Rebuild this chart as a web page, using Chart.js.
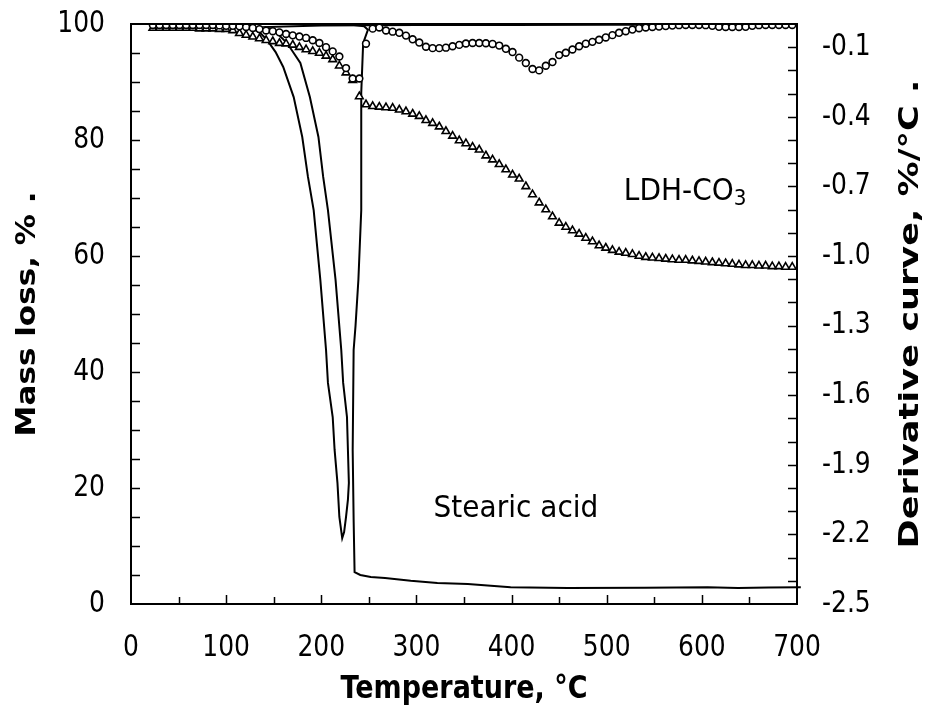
<!DOCTYPE html>
<html>
<head>
<meta charset="utf-8">
<script src="https://cdn.jsdelivr.net/npm/chart.js@4.4.1/dist/chart.umd.min.js"></script>
<style>
  html, body { margin: 0; padding: 0; background: #fff; }
  canvas { display: block; }
</style>
</head>
<body>
<canvas id="tga" width="927" height="711"></canvas>
<script>
// LDH-CO3: temperatures (°C) where the markers sit, TG (%) and DTG (%/°C)
const ldhTemp = [23, 30, 37, 44, 51, 58, 65, 72, 79, 86, 93, 100, 107, 114, 121, 128, 135, 142, 149, 156,
  163, 170, 177, 184, 191, 198, 205, 212, 219, 226, 233, 240, 247, 254, 261, 268, 275, 282, 289, 296,
  303, 310, 317, 324, 331, 338, 345, 352, 359, 366, 373, 380, 387, 394, 401, 408, 415, 422, 429, 436,
  443, 450, 457, 464, 471, 478, 485, 492, 499, 506, 513, 520, 527, 534, 541, 548, 555, 562, 569, 576,
  583, 590, 597, 604, 611, 618, 625, 632, 639, 646, 653, 660, 667, 674, 681, 688, 695];
const ldhMass = [99.3, 99.3, 99.3, 99.3, 99.3, 99.3, 99.3, 99.2, 99.2, 99.2, 99.1, 99.1, 98.9, 98.4, 98.1, 97.8, 97.5, 97.2, 97.0, 96.7,
  96.6, 96.4, 96.0, 95.6, 95.3, 95.0, 94.5, 93.9, 92.8, 91.6, 90.3, 87.5, 86.1, 85.8, 85.7, 85.6, 85.5, 85.2, 84.9, 84.5,
  84.1, 83.4, 82.9, 82.3, 81.5, 80.7, 79.9, 79.4, 78.8, 78.3, 77.3, 76.6, 75.8, 74.9, 74.0, 73.3, 72.0, 70.6, 69.2, 68.0,
  66.8, 65.7, 65.0, 64.4, 63.8, 63.1, 62.5, 61.8, 61.4, 61.0, 60.7, 60.5, 60.3, 60.0, 59.8, 59.7, 59.6, 59.5, 59.4, 59.3,
  59.3, 59.2, 59.1, 59.0, 58.9, 58.8, 58.7, 58.6, 58.5, 58.4, 58.4, 58.3, 58.3, 58.2, 58.2, 58.1, 58.1];
const ldhDeriv = [-0.004, -0.004, -0.004, -0.004, -0.004, -0.004, -0.004, -0.004, -0.004, -0.004, -0.006, -0.008, -0.008, -0.010, -0.013, -0.017, -0.022, -0.028, -0.031, -0.036,
  -0.043, -0.049, -0.054, -0.060, -0.070, -0.082, -0.100, -0.118, -0.140, -0.190, -0.235, -0.235, -0.085, -0.020, -0.015, -0.028, -0.033, -0.038, -0.050, -0.066,
  -0.080, -0.098, -0.104, -0.104, -0.102, -0.096, -0.090, -0.084, -0.082, -0.082, -0.083, -0.086, -0.093, -0.107, -0.121, -0.145, -0.168, -0.194, -0.200, -0.180,
  -0.164, -0.134, -0.124, -0.110, -0.096, -0.085, -0.077, -0.068, -0.058, -0.048, -0.038, -0.031, -0.024, -0.018, -0.015, -0.013, -0.011, -0.009, -0.007, -0.005,
  -0.004, -0.004, -0.004, -0.005, -0.008, -0.012, -0.013, -0.013, -0.013, -0.012, -0.008, -0.005, -0.004, -0.004, -0.004, -0.004, -0.004];

// stearic acid TG (%)
const saTgTemp = [23, 60, 100, 150, 200, 230, 245, 249, 244, 242, 242, 239, 236, 234, 233, 234, 235, 241, 252, 267,
  294, 322, 354, 399, 459, 540, 606, 638, 670, 704];
const saTgMass = [100, 100, 100, 100, 100, 99.9, 99.6, 99.0, 96.7, 88.1, 67.9, 55.9, 48.0, 43.8, 26.6, 14.5, 5.5, 5.0, 4.65, 4.5,
  4.0, 3.6, 3.45, 2.9, 2.75, 2.8, 2.9, 2.75, 2.85, 2.9];

// stearic acid DTG (%/°C), in recorded order
const saDtgTemp = [23, 80, 120, 125, 136, 143, 152, 160, 171, 180, 186, 192, 199, 205, 207, 212, 214, 217, 219, 222,
  224, 226, 228, 229, 228, 227, 223, 221, 215, 207, 202, 197, 188, 178, 164, 152, 141, 200, 300, 400, 500, 600, 700];
const saDtgRate = [-0.002, -0.003, -0.006, -0.013, -0.039, -0.069, -0.121, -0.185, -0.315, -0.487, -0.659, -0.802, -1.103, -1.405, -1.547, -1.694, -1.836, -1.978, -2.125, -2.216,
  -2.19, -2.125, -2.05, -1.978, -1.836, -1.694, -1.547, -1.405, -1.103, -0.802, -0.659, -0.487, -0.315, -0.168, -0.082, -0.034, -0.013, -0.006, -0.004, -0.004, -0.003, -0.003, -0.003];

const tempTicks = [0, 100, 200, 300, 400, 500, 600, 700];
const massTicks = [0, 20, 40, 60, 80, 100];
const derivTicks = [-2.5, -2.2, -1.9, -1.6, -1.3, -1.0, -0.7, -0.4, -0.1];

const INK = '#000';
const FONT = "'DejaVu Sans', sans-serif";
const TICK_LEN = 9;
const STRETCH = 1.2;   // the original figure's lettering is taller than it is wide

const pairs = (xs, ys) => xs.map((x, i) => ({ x, y: ys[i] }));

function drawText(ctx, text, x, y, { font, align = 'center', baseline = 'middle', stretch = STRETCH, rotate = false }) {
  ctx.save();
  ctx.font = font;
  ctx.textAlign = align;
  ctx.textBaseline = baseline;
  ctx.translate(x, y);
  ctx.scale(1, stretch);
  if (rotate) ctx.rotate(-Math.PI / 2);
  ctx.fillText(text, 0, 0);
  ctx.restore();
}

// axis frame, inward tick marks, tick labels, titles and in-plot labels
const frame = {
  id: 'frame',
  afterDatasetsDraw(chart) {
    const { ctx, chartArea: a, scales } = chart;
    const { x: sx, y: sy, y2: sy2 } = scales;
    ctx.save();
    ctx.strokeStyle = INK;
    ctx.fillStyle = INK;
    ctx.lineWidth = 2;
    ctx.strokeRect(a.left, a.top, a.right - a.left, a.bottom - a.top);

    ctx.lineWidth = 1.5;
    ctx.beginPath();
    for (let v = 5; v < 100; v += 5) {
      const y = Math.round(sy.getPixelForValue(v)) + 0.5;
      ctx.moveTo(a.left, y); ctx.lineTo(a.left + TICK_LEN, y);
    }
    for (let i = 1; i < 25; i++) {
      const y = Math.round(sy2.getPixelForValue(-i / 10)) + 0.5;
      ctx.moveTo(a.right, y); ctx.lineTo(a.right - TICK_LEN, y);
    }
    for (let v = 50; v < 700; v += 50) {
      const x = Math.round(sx.getPixelForValue(v)) + 0.5;
      ctx.moveTo(x, a.bottom); ctx.lineTo(x, a.bottom - (v % 100 ? TICK_LEN - 2 : TICK_LEN));
    }
    ctx.stroke();

    const tickFont = `25px ${FONT}`;
    sx.ticks.forEach(t => drawText(ctx, String(t.value), sx.getPixelForValue(t.value), a.bottom + 44, { font: tickFont }));
    sy.ticks.forEach(t => drawText(ctx, String(t.value), a.left - 26, sy.getPixelForValue(t.value), { font: tickFont, align: 'right' }));
    sy2.ticks.forEach(t => drawText(ctx, t.value.toFixed(1), a.right + 25, sy2.getPixelForValue(t.value), { font: tickFont, align: 'left' }));

    const titleFont = `bold 27px ${FONT}`;
    const midY = (a.top + a.bottom) / 2;
    drawText(ctx, 'Temperature, °C', (a.left + a.right) / 2, 690, { font: titleFont });
    drawText(ctx, 'Mass loss, % .', 28, midY, { font: titleFont, rotate: true, stretch: 1.15 });
    drawText(ctx, 'Derivative curve, %/°C .', 911, midY, { font: titleFont, rotate: true, stretch: 1.3 });

    const noteFont = `28px ${FONT}`;
    const lx = sx.getPixelForValue(518), ly = sy.getPixelForValue(69.7);
    drawText(ctx, 'LDH-CO', lx, ly, { font: noteFont, align: 'left', baseline: 'alphabetic', stretch: 1.1 });
    ctx.font = noteFont;
    const w = ctx.measureText('LDH-CO').width;
    drawText(ctx, '3', lx + w, ly + 5, { font: `20px ${FONT}`, align: 'left', baseline: 'alphabetic', stretch: 1.1 });
    drawText(ctx, 'Stearic acid', sx.getPixelForValue(318), sy.getPixelForValue(15), { font: noteFont, align: 'left', baseline: 'alphabetic', stretch: 1.1 });
    ctx.restore();
  }
};

const quietAxis = {
  grid: { display: false, drawTicks: false },
  border: { display: false },
  ticks: { display: false },
};

new Chart(document.getElementById('tga'), {
  type: 'scatter',
  data: {
    datasets: [
      {
        label: 'LDH-CO3 DTG', yAxisID: 'y2', data: pairs(ldhTemp, ldhDeriv), showLine: false,
        pointStyle: 'circle', pointRadius: 3.4, pointBorderWidth: 1.6,
        pointBackgroundColor: '#fff', pointBorderColor: INK, order: 1,
      },
      {
        label: 'LDH-CO3 TG', yAxisID: 'y', data: pairs(ldhTemp, ldhMass), showLine: false,
        pointStyle: 'triangle', pointRadius: 4.4, pointBorderWidth: 1.6,
        pointBackgroundColor: '#fff', pointBorderColor: INK, order: 2,
      },
      {
        label: 'Stearic acid TG', yAxisID: 'y', data: pairs(saTgTemp, saTgMass), showLine: true,
        borderColor: INK, borderWidth: 2, pointRadius: 0, tension: 0, order: 3,
        clip: { left: 2, top: 2, right: 10, bottom: 2 },
      },
      {
        label: 'Stearic acid DTG', yAxisID: 'y2', data: pairs(saDtgTemp, saDtgRate), showLine: true,
        borderColor: INK, borderWidth: 2, pointRadius: 0, tension: 0, order: 4,
      },
    ],
  },
  options: {
    responsive: false,
    animation: false,
    devicePixelRatio: 1,
    layout: { padding: { top: 24, left: 0, right: 0, bottom: 0 } },
    plugins: { legend: { display: false }, tooltip: { enabled: false } },
    scales: {
      x: {
        ...quietAxis, type: 'linear', position: 'bottom', min: 0, max: 700,
        afterBuildTicks: s => { s.ticks = tempTicks.map(value => ({ value })); },
        afterFit: s => { s.height = 107; s.paddingLeft = 0; s.paddingRight = 0; },
      },
      y: {
        ...quietAxis, type: 'linear', position: 'left', min: 0, max: 100,
        afterBuildTicks: s => { s.ticks = massTicks.map(value => ({ value })); },
        afterFit: s => { s.width = 131; s.paddingTop = 0; s.paddingBottom = 0; },
      },
      y2: {
        ...quietAxis, type: 'linear', position: 'right', min: -2.5, max: 0,
        afterBuildTicks: s => { s.ticks = derivTicks.map(value => ({ value })); },
        afterFit: s => { s.width = 130; s.paddingTop = 0; s.paddingBottom = 0; },
      },
    },
  },
  plugins: [frame],
});
</script>
</body>
</html>
